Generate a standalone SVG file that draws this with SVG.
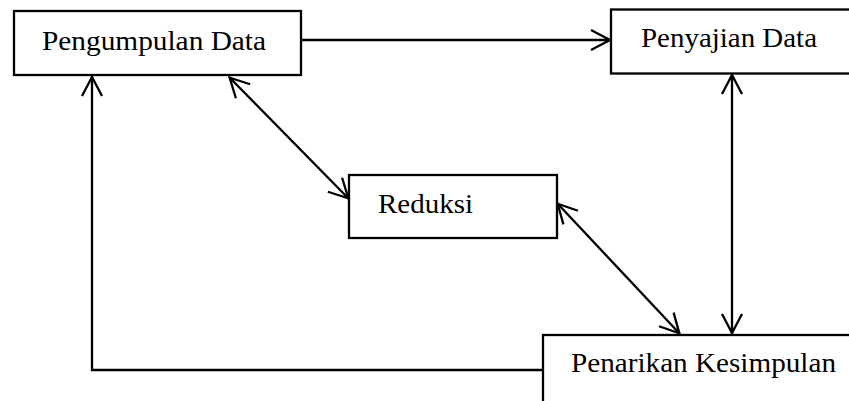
<svg xmlns="http://www.w3.org/2000/svg" width="849" height="401" viewBox="0 0 849 401">
<style>
.box{fill:#fff;stroke:#000;stroke-width:2.3}
.lbl{font-family:"Liberation Serif","Times New Roman",serif;font-size:28px;fill:#000}
.con{fill:none;stroke:#000;stroke-width:2.3}
</style>
<defs>
<marker id="ah" markerUnits="userSpaceOnUse" markerWidth="30" markerHeight="30" viewBox="-25 -15 30 30" refX="0" refY="0" orient="auto-start-reverse" overflow="visible">
<path d="M-20,-10 L-1,0 L-20,10" fill="none" stroke="#000" stroke-width="2.3" stroke-linejoin="miter"/>
</marker>
</defs>
<rect width="849" height="401" fill="#fff"/>
<g id="connectors">
<line class="con" x1="301" y1="40" x2="611" y2="40" marker-end="url(#ah)"/>
<line class="con" x1="732" y1="74" x2="732" y2="334" marker-start="url(#ah)" marker-end="url(#ah)"/>
<line class="con" x1="229" y1="77" x2="349" y2="199" marker-start="url(#ah)" marker-end="url(#ah)"/>
<line class="con" x1="557" y1="203" x2="680" y2="334" marker-start="url(#ah)" marker-end="url(#ah)"/>
<polyline class="con" points="543,370 92,370 92,76" marker-end="url(#ah)"/>
</g>
<g id="node-pengumpulan">
<rect class="box" x="14" y="11" width="287" height="64"/>
<text class="lbl" x="42" y="49.5" textLength="224" lengthAdjust="spacingAndGlyphs">Pengumpulan Data</text>
</g>
<g id="node-penyajian">
<rect class="box" x="611" y="9.5" width="260" height="64"/>
<text class="lbl" x="641" y="46.5" textLength="176" lengthAdjust="spacingAndGlyphs">Penyajian Data</text>
</g>
<g id="node-reduksi">
<rect class="box" x="349" y="175" width="208" height="63"/>
<text class="lbl" x="378" y="213" textLength="95" lengthAdjust="spacingAndGlyphs">Reduksi</text>
</g>
<g id="node-penarikan">
<rect class="box" x="543" y="335" width="320" height="100"/>
<text class="lbl" x="571" y="372" textLength="265" lengthAdjust="spacingAndGlyphs">Penarikan Kesimpulan</text>
</g>
</svg>
